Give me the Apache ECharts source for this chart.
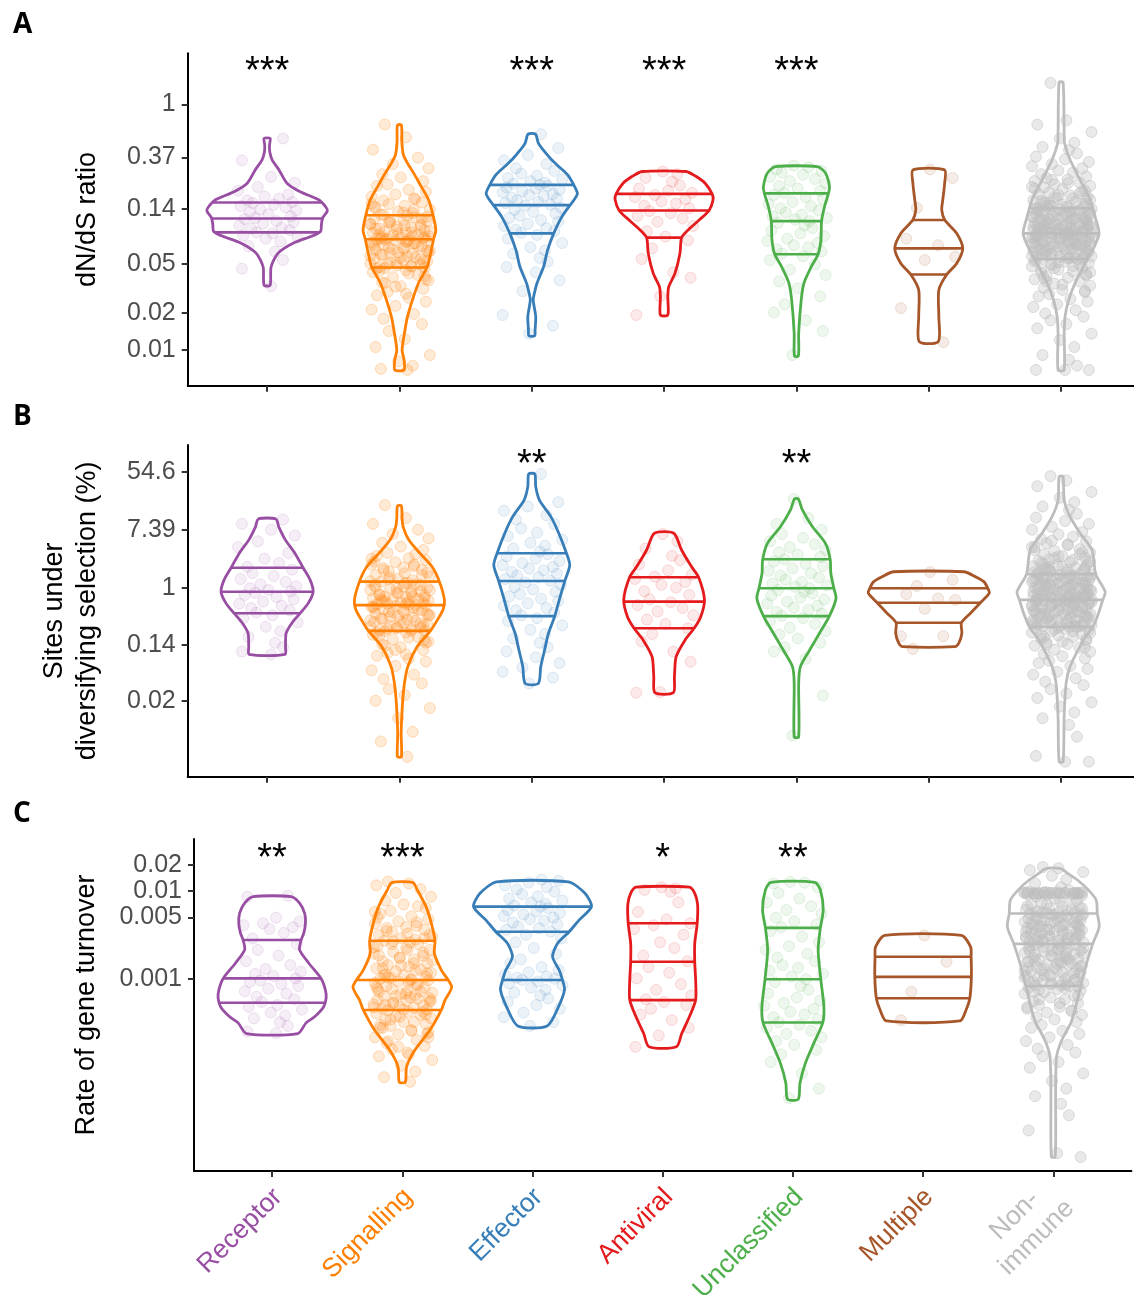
<!DOCTYPE html>
<html>
<head>
<meta charset="utf-8">
<title>Immune gene categories</title>
<script src="https://cdn.jsdelivr.net/npm/echarts@6/dist/echarts.min.js"></script>
<style>
  html, body { margin: 0; padding: 0; background: #fff; }
  #chart { width: 1134px; height: 1295px; }
</style>
</head>
<body>
<div id="chart"></div>
<script>
// 类别与配色
const categories = ['Receptor', 'Signalling', 'Effector', 'Antiviral', 'Unclassified', 'Multiple', 'Non-\nimmune'];
const catColors = ['#984ea3', '#ff7f00', '#377eb8', '#e41a1c', '#4daf4a', '#a65628', '#bdbdbd'];

// 刻度标签（原始数值，坐标轴按自然对数绘制）
const dndsTicks = [1, 0.37, 0.14, 0.05, 0.02, 0.01];
const sitesTicks = [54.6, 7.39, 1, 0.14, 0.02];
const turnoverTicks = [0.02, 0.01, 0.005, 0.001];

// 显著性星号
const dndsStars = ['***', '', '***', '***', '***', '', ''];
const sitesStars = ['', '', '**', '', '**', '', ''];
const turnoverStars = ['**', '***', '', '*', '**', '', ''];

// 抖动偏移表（类别单位）
const jitter = [0.12, -0.19, 0.03, 0.21, -0.07, -0.22, 0.16, -0.02, 0.09, -0.15, 0.19, -0.11, 0.05, -0.2, 0.14, -0.05, 0.22, -0.13, 0.01,
  0.18, -0.09, -0.17, 0.07, 0.2, -0.03, -0.21, 0.11, -0.12, 0.17, -0.08, 0.04, -0.18, 0.23, -0.01, 0.1, -0.14, 0.06];

// ---- A: ln(dN/dS) ----
const dndsPoints = [
  [-0.64,-1.05,-1.36,-1.47,-1.55,-1.62,-1.69,-1.73,-1.77,-1.8,-1.83,-1.85,-1.88,-1.91,-1.93,-1.97,-1.99,-2.02,-2.06,-2.1,-2.13,-2.15,-2.19,-2.21,-2.24,-2.27,-2.31,-2.33,-2.36,-2.4,-2.42,-2.46,-2.49,-2.52,-2.57,-2.66,-2.76,-2.92,-3.08,-3.41],
  [-0.38,-0.62,-0.85,-1.0,-1.12,-1.2,-1.31,-1.37,-1.44,-1.5,-1.53,-1.6,-1.64,-1.69,-1.73,-1.76,-1.8,-1.84,-1.87,-1.9,-1.94,-1.97,-2.01,-2.04,-2.07,
   -2.09,-2.12,-2.15,-2.17,-2.19,-2.22,-2.25,-2.26,-2.29,-2.31,-2.33,-2.36,-2.38,-2.4,-2.41,-2.44,-2.45,-2.47,-2.49,-2.5,-2.51,-2.52,-2.53,-2.54,-2.55,
   -2.56,-2.59,-2.6,-2.63,-2.66,-2.68,-2.7,-2.73,-2.75,-2.78,-2.8,-2.82,-2.85,-2.87,-2.89,-2.92,-2.94,-2.96,-2.98,-3.0,-3.02,-3.03,-3.05,-3.06,-3.07,
   -3.11,-3.15,-3.2,-3.24,-3.3,-3.34,-3.41,-3.46,-3.52,-3.58,-3.63,-3.7,-3.78,-3.85,-3.93,-4.02,-4.12,-4.25,-4.4,-4.55,-4.7,-4.82,-4.9,-4.96,-4.98,
   -1.78,-1.92,-2.03,-2.11,-2.18,-2.24,-2.3,-2.35,-2.4,-2.45,-2.49,-2.54,-2.58,-2.62,-2.67,-2.72,-2.77,-2.82,-2.88,-2.94,-3.0,-3.08,-3.17,-3.28,-3.42,
   -1.86,-1.98,-2.07,-2.14,-2.21,-2.27,-2.33,-2.38,-2.43,-2.47,-2.52,-2.57,-2.61,-2.65,-2.7,-2.74,-2.79,-2.84,-2.9,-2.97,-3.04,-3.12,-3.22,-3.35,-3.55],
  [-0.56,-0.82,-0.95,-1.05,-1.12,-1.2,-1.25,-1.3,-1.34,-1.38,-1.41,-1.44,-1.47,-1.49,-1.51,-1.53,-1.56,-1.58,-1.6,-1.63,-1.65,-1.68,-1.7,-1.72,-1.75,-1.77,-1.8,-1.83,-1.85,-1.88,
   -1.9,-1.94,-1.98,-2.02,-2.05,-2.09,-2.13,-2.17,-2.2,-2.24,-2.28,-2.32,-2.35,-2.38,-2.41,-2.45,-2.52,-2.6,-2.68,-2.74,-2.8,-2.88,-2.95,-3.05,-3.15,-3.3,-3.5,-3.95,-4.15,-4.3],
  [-1.26,-1.31,-1.38,-1.45,-1.52,-1.58,-1.62,-1.66,-1.7,-1.74,-1.78,-1.82,-1.86,-1.9,-1.95,-2.0,-2.04,-2.09,-2.14,-2.2,-2.28,-2.38,-2.48,-2.55,-2.7,-2.9,-3.15,-3.25,-3.6,-3.95],
  [-1.15,-1.18,-1.22,-1.25,-1.28,-1.32,-1.36,-1.4,-1.44,-1.48,-1.53,-1.58,-1.62,-1.66,-1.7,-1.74,-1.78,-1.83,-1.87,-1.91,-1.95,-1.99,-2.03,-2.07,-2.1,-2.13,-2.16,-2.19,
   -2.22,-2.27,-2.32,-2.37,-2.42,-2.47,-2.52,-2.56,-2.6,-2.64,-2.68,-2.72,-2.76,-2.8,-2.85,-2.92,-3.0,-3.1,-3.2,-3.32,-3.45,-3.6,-3.75,-3.9,-4.05,-4.25,-4.7],
  [-1.22,-1.38,-1.94,-2.52,-2.64,-2.86,-2.92,-3.82,-4.46],
  [0.4,-0.3,-0.38,-0.52,-0.64,-0.72,-0.8,-0.86,-0.92,-0.98,-1.03,-1.08,-1.12,-1.16,-1.2,-1.24,-1.28,-1.31,-1.35,-1.38,-1.41,-1.44,-1.47,-1.5,-1.53,-1.56,-1.59,-1.62,-1.65,-1.68,-1.71,-1.74,-1.77,-1.8,-1.82,-1.85,-1.87,-1.9,-1.92,-1.94,
   -1.96,-1.97,-1.99,-2.0,-2.02,-2.03,-2.05,-2.06,-2.08,-2.09,-2.11,-2.12,-2.14,-2.15,-2.17,-2.18,-2.2,-2.21,-2.23,-2.24,-2.25,-2.26,-2.28,-2.29,-2.3,-2.31,-2.32,-2.33,-2.34,-2.35,-2.36,-2.37,-2.38,-2.39,-2.4,-2.4,-2.41,-2.41,-2.42,-2.42,
   -2.43,-2.44,-2.45,-2.46,-2.47,-2.48,-2.49,-2.5,-2.51,-2.52,-2.53,-2.55,-2.56,-2.57,-2.58,-2.6,-2.61,-2.62,-2.63,-2.65,-2.66,-2.67,-2.69,-2.7,-2.71,-2.73,-2.74,-2.75,-2.77,-2.78,-2.8,-2.81,-2.83,-2.84,-2.85,-2.86,-2.87,-2.88,-2.89,-2.9,
   -2.92,-2.95,-2.98,-3.01,-3.04,-3.07,-3.1,-3.13,-3.16,-3.19,-3.22,-3.25,-3.28,-3.32,-3.36,-3.4,-3.44,-3.48,-3.52,-3.56,-3.6,-3.65,-3.7,-3.75,-3.8,-3.86,-3.92,-3.98,-4.05,-4.12,-4.2,-4.3,-4.42,-4.55,-4.7,-4.79,-4.9,-4.98,-4.98,-4.98,
   -1.42,-1.55,-1.63,-1.7,-1.76,-1.81,-1.86,-1.9,-1.93,-1.96,-1.99,-2.01,-2.04,-2.07,-2.1,-2.13,-2.16,-2.19,-2.22,-2.25,-2.27,-2.3,-2.33,-2.35,-2.38,-2.41,-2.44,-2.47,-2.5,-2.53,-2.56,-2.59,-2.62,-2.65,-2.68,-2.72,-2.76,-2.8,-2.85,-2.9,-2.96,-3.03,-3.1,-3.2,-3.32,
   -1.48,-1.58,-1.67,-1.74,-1.79,-1.84,-1.88,-1.92,-1.95,-1.98,-2.02,-2.05,-2.08,-2.11,-2.14,-2.17,-2.2,-2.23,-2.26,-2.29,-2.31,-2.34,-2.37,-2.39,-2.43,-2.46,-2.49,-2.52,-2.55,-2.58,-2.61,-2.64,-2.67,-2.7,-2.74,-2.78,-2.83,-2.88,-2.94,-3.0,-3.07,-3.15,-3.25,-3.38,-3.5,
   -1.85,-2.0,-2.15,-2.28,-2.4,-2.51,-2.63,-2.75,-2.87,-3.0]
];
// 小提琴轮廓 [ln值, 半宽(类别单位)]，自上而下
const dndsViolins = [
  [[-0.64,0.023],[-0.76,0.018],[-0.89,0.02],[-1.04,0.038],[-1.23,0.09],[-1.48,0.15],[-1.64,0.25],[-1.79,0.39],[-1.93,0.445],[-2.0,0.455],[-2.13,0.42],[-2.26,0.41],[-2.38,0.405],[-2.47,0.34],[-2.6,0.2],[-2.79,0.083],[-3.05,0.03],[-3.39,0.023]],
  [[-0.39,0.015],[-0.7,0.018],[-0.95,0.03],[-1.1,0.06],[-1.3,0.11],[-1.5,0.155],[-1.79,0.22],[-2.11,0.257],[-2.36,0.275],[-2.54,0.257],[-2.79,0.236],[-3.05,0.21],[-3.35,0.144],[-3.67,0.098],[-3.99,0.06],[-4.29,0.038],[-4.61,0.02],[-4.79,0.035],[-4.98,0.035]],
  [[-0.56,0.028],[-0.73,0.05],[-0.86,0.088],[-1.04,0.15],[-1.18,0.21],[-1.32,0.27],[-1.51,0.317],[-1.67,0.345],[-1.79,0.32],[-1.89,0.29],[-2.11,0.227],[-2.42,0.166],[-2.73,0.12],[-3.04,0.09],[-3.35,0.04],[-3.54,0.02],[-3.67,0.011],[-3.98,0.03],[-4.23,0.025],[-4.34,0.022]],
  [[-1.26,0.166],[-1.35,0.24],[-1.48,0.31],[-1.68,0.363],[-1.79,0.37],[-1.99,0.34],[-2.17,0.265],[-2.36,0.18],[-2.5,0.132],[-2.79,0.12],[-3.17,0.082],[-3.42,0.035],[-3.6,0.028],[-3.95,0.028]],
  [[-1.17,0.159],[-1.29,0.22],[-1.55,0.25],[-1.67,0.242],[-1.92,0.212],[-2.19,0.19],[-2.54,0.185],[-2.81,0.164],[-3.04,0.113],[-3.35,0.057],[-3.67,0.036],[-4.29,0.017],[-4.72,0.015]],
  [[-1.23,0.119],[-1.48,0.12],[-1.79,0.106],[-1.98,0.098],[-2.17,0.121],[-2.41,0.208],[-2.7,0.257],[-2.98,0.212],[-3.19,0.136],[-3.48,0.076],[-3.98,0.076],[-4.45,0.072]],
  [[0.41,0.015],[-0.54,0.023],[-0.73,0.026],[-1.04,0.068],[-1.42,0.144],[-1.79,0.22],[-2.11,0.257],[-2.42,0.287],[-2.67,0.25],[-3.04,0.17],[-3.35,0.106],[-3.67,0.057],[-3.98,0.03],[-4.29,0.023],[-4.98,0.023]]
];
const dndsQuartiles = [[-1.84,-2.14,-2.4],[-2.08,-2.53,-3.06],[-1.51,-1.89,-2.42],[-1.68,-1.99,-2.5],[-1.67,-2.19,-2.81],[-2.17,-2.7,-3.19],[-1.95,-2.42,-2.9]];

// ---- B: ln(% sites under diversifying selection) ----
const sitesPoints = [
  [2.35,2.2,2.0,1.8,1.6,1.4,1.2,1.0,0.85,0.72,0.62,0.5,0.4,0.3,0.2,0.12,0.05,-0.02,-0.08,-0.13,-0.18,-0.25,-0.32,-0.4,-0.48,-0.55,-0.62,-0.7,-0.78,-0.86,-0.95,-1.05,-1.2,-1.35,-1.5,-1.7,-1.9,-2.05,-2.2,-2.3],
  [2.85,2.4,2.2,2.0,1.85,1.7,1.55,1.42,1.3,1.2,1.1,1.02,0.95,0.88,0.8,0.74,0.68,0.62,0.56,0.5,0.44,0.38,0.32,0.26,0.21,
   0.17,0.12,0.08,0.04,0.0,-0.04,-0.08,-0.12,-0.16,-0.2,-0.24,-0.27,-0.3,-0.33,-0.36,-0.39,-0.42,-0.45,-0.48,-0.5,-0.53,-0.55,-0.57,-0.59,-0.6,
   -0.63,-0.67,-0.7,-0.74,-0.78,-0.82,-0.86,-0.9,-0.94,-0.98,-1.02,-1.06,-1.1,-1.14,-1.18,-1.22,-1.26,-1.3,-1.34,-1.37,-1.4,-1.43,-1.46,-1.48,-1.5,
   -1.55,-1.62,-1.7,-1.78,-1.86,-1.95,-2.05,-2.15,-2.25,-2.35,-2.45,-2.55,-2.7,-2.85,-3.0,-3.15,-3.3,-3.5,-3.7,-3.9,-4.15,-4.5,-4.97,-5.3,-5.83,
   1.15,0.9,0.7,0.52,0.36,0.22,0.09,-0.03,-0.14,-0.25,-0.35,-0.45,-0.55,-0.65,-0.75,-0.85,-0.96,-1.07,-1.18,-1.3,-1.42,-1.56,-1.72,-1.9,-2.15,
   1.0,0.8,0.61,0.44,0.29,0.15,0.03,-0.09,-0.2,-0.3,-0.4,-0.5,-0.6,-0.7,-0.8,-0.9,-1.01,-1.12,-1.24,-1.36,-1.49,-1.64,-1.81,-2.0,-2.3],
  [3.92,2.95,2.8,2.65,2.5,2.35,2.2,2.05,1.9,1.78,1.65,1.55,1.45,1.35,1.25,1.15,1.08,1.0,0.92,0.85,0.78,0.72,0.66,0.6,0.54,0.48,0.42,0.36,0.3,0.24,
   0.18,0.1,0.02,-0.06,-0.14,-0.22,-0.3,-0.38,-0.46,-0.54,-0.62,-0.7,-0.78,-0.86,-0.95,-1.05,-1.15,-1.3,-1.45,-1.6,-1.75,-1.9,-2.05,-2.2,-2.4,-2.6,-2.75,-2.9,-3.1,-3.3],
  [1.85,1.6,1.35,1.1,0.95,0.8,0.6,0.45,0.38,0.3,0.2,0.1,0.0,-0.12,-0.25,-0.4,-0.5,-0.6,-0.7,-0.82,-0.95,-1.1,-1.25,-1.4,-1.6,-1.85,-2.2,-2.55,-3.6,-3.62],
  [3.06,2.4,2.2,2.0,1.85,1.72,1.6,1.5,1.4,1.3,1.22,1.14,1.06,0.98,0.9,0.82,0.74,0.66,0.58,0.5,0.42,0.35,0.28,0.2,0.14,0.08,0.03,-0.02,
   -0.08,-0.14,-0.2,-0.27,-0.34,-0.41,-0.48,-0.55,-0.62,-0.69,-0.76,-0.83,-0.9,-0.97,-1.05,-1.15,-1.25,-1.38,-1.5,-1.62,-1.75,-1.9,-2.05,-2.2,-2.45,-3.72,-5.1],
  [0.54,0.27,0.06,-0.22,-0.37,-0.42,-0.73,-1.67,-1.67,-2.11],
  [3.85,3.7,3.5,3.3,3.1,2.95,2.8,2.68,2.55,2.42,2.3,2.2,2.1,2.0,1.92,1.84,1.76,1.68,1.6,1.53,1.46,1.4,1.33,1.27,1.21,1.15,1.09,1.03,0.98,0.93,0.88,0.83,0.78,0.74,0.7,0.66,0.62,0.57,0.52,0.48,
   0.45,0.43,0.4,0.38,0.35,0.33,0.3,0.28,0.25,0.23,0.2,0.18,0.15,0.13,0.1,0.08,0.05,0.03,0.0,-0.02,-0.05,-0.07,-0.1,-0.12,-0.15,-0.17,-0.2,-0.22,-0.24,-0.26,-0.28,-0.3,-0.32,-0.34,-0.36,-0.37,-0.38,-0.4,-0.41,-0.42,
   -0.44,-0.46,-0.49,-0.51,-0.54,-0.56,-0.59,-0.61,-0.64,-0.66,-0.69,-0.71,-0.74,-0.76,-0.79,-0.81,-0.84,-0.86,-0.89,-0.91,-0.94,-0.96,-0.99,-1.01,-1.04,-1.06,-1.09,-1.11,-1.14,-1.16,-1.19,-1.21,-1.24,-1.26,-1.28,-1.3,-1.32,-1.33,-1.34,-1.35,
   -1.38,-1.42,-1.46,-1.5,-1.55,-1.6,-1.65,-1.7,-1.76,-1.82,-1.88,-1.94,-2.0,-2.07,-2.14,-2.21,-2.28,-2.36,-2.44,-2.52,-2.6,-2.7,-2.8,-2.9,-3.0,-3.12,-3.24,-3.36,-3.5,-3.65,-3.8,-3.95,-4.1,-4.3,-4.5,-4.73,-5.14,-5.8,-6.0,-6.0,
   1.62,1.4,1.22,1.08,0.96,0.86,0.77,0.69,0.61,0.54,0.47,0.41,0.35,0.29,0.23,0.17,0.11,0.06,0.01,-0.04,-0.09,-0.14,-0.19,-0.24,-0.29,-0.34,-0.39,-0.44,-0.49,-0.55,-0.61,-0.67,-0.73,-0.8,-0.87,-0.94,-1.02,-1.1,-1.19,-1.28,-1.38,-1.5,-1.63,-1.78,-1.95,
   1.5,1.3,1.15,1.02,0.91,0.81,0.73,0.65,0.58,0.51,0.44,0.38,0.32,0.26,0.2,0.14,0.09,0.04,-0.01,-0.06,-0.11,-0.16,-0.21,-0.26,-0.31,-0.36,-0.41,-0.46,-0.52,-0.58,-0.64,-0.7,-0.77,-0.84,-0.91,-0.98,-1.06,-1.14,-1.23,-1.33,-1.44,-1.56,-1.7,-1.86,-2.05,
   0.7,0.4,0.1,-0.2,-0.5,-0.8,-1.1,0.25,-0.35,-0.65]
];
const sitesViolins = [
  [[2.37,0.066],[2.1,0.088],[1.65,0.138],[1.19,0.21],[0.69,0.272],[0.27,0.325],[-0.14,0.348],[-0.54,0.31],[-0.88,0.25],[-1.2,0.19],[-1.57,0.144],[-2.03,0.139],[-2.3,0.135]],
  [[2.82,0.015],[2.4,0.02],[2.1,0.028],[1.65,0.07],[1.19,0.154],[0.72,0.247],[0.21,0.302],[-0.42,0.34],[-0.75,0.33],[-1.11,0.287],[-1.49,0.234],[-2.03,0.134],[-2.72,0.063],[-3.29,0.038],[-3.87,0.025],[-5.01,0.013],[-5.83,0.015]],
  [[3.92,0.023],[3.48,0.03],[3.02,0.058],[2.45,0.144],[1.88,0.204],[1.19,0.262],[0.78,0.287],[0.23,0.25],[-0.42,0.208],[-0.98,0.174],[-1.57,0.126],[-2.15,0.097],[-2.72,0.068],[-3.3,0.05]],
  [[1.88,0.073],[1.3,0.132],[0.72,0.208],[0.36,0.261],[-0.42,0.305],[-1.0,0.277],[-1.4,0.227],[-1.8,0.159],[-2.38,0.091],[-3.07,0.078],[-3.62,0.07]],
  [[3.06,0.015],[2.68,0.045],[2.1,0.121],[1.53,0.219],[0.98,0.255],[0.5,0.26],[-0.02,0.283],[-0.37,0.299],[-0.98,0.249],[-1.57,0.174],[-2.15,0.1],[-2.72,0.03],[-3.29,0.017],[-5.14,0.017]],
  [[0.55,0.265],[0.38,0.353],[0.21,0.416],[-0.02,0.446],[-0.19,0.457],[-0.52,0.39],[-0.88,0.315],[-1.21,0.247],[-1.57,0.25],[-1.91,0.227],[-2.03,0.197]],
  [[3.83,0.015],[3.02,0.023],[2.45,0.068],[1.88,0.144],[1.3,0.234],[0.47,0.261],[-0.14,0.333],[-0.42,0.315],[-0.88,0.283],[-1.35,0.24],[-1.8,0.17],[-2.72,0.068],[-3.29,0.038],[-4.45,0.023],[-6.0,0.015]]
];
const sitesQuartiles = [[0.69,-0.14,-0.88],[0.21,-0.6,-1.49],[1.19,0.23,-0.98],[0.36,-0.48,-1.4],[0.98,-0.02,-0.98],[-0.02,-0.52,-1.21],[0.47,-0.42,-1.35]];

// ---- C: ln(rate of gene turnover) ----
const turnoverPoints = [
  [-4.72,-4.75,-5.3,-5.4,-5.45,-5.5,-5.55,-5.6,-5.7,-5.85,-6.0,-6.15,-6.3,-6.45,-6.55,-6.65,-6.72,-6.78,-6.84,-6.9,-6.95,-7.0,-7.05,-7.1,-7.17,-7.24,-7.3,-7.38,-7.45,-7.52,-7.6,-7.65,-7.72,-7.8,-7.88,-7.95,-8.05,-8.15,-8.3,-8.34],
  [-4.35,-4.4,-4.45,-4.55,-4.65,-4.75,-4.85,-4.95,-5.05,-5.12,-5.2,-5.27,-5.34,-5.4,-5.46,-5.52,-5.57,-5.62,-5.67,-5.72,-5.76,-5.8,-5.84,-5.88,-5.91,
   -5.95,-6.0,-6.05,-6.1,-6.15,-6.2,-6.25,-6.3,-6.35,-6.4,-6.45,-6.5,-6.55,-6.59,-6.63,-6.67,-6.71,-6.75,-6.79,-6.82,-6.85,-6.88,-6.91,-6.93,-6.95,
   -6.98,-7.02,-7.06,-7.1,-7.14,-7.18,-7.22,-7.25,-7.28,-7.31,-7.34,-7.37,-7.4,-7.43,-7.46,-7.49,-7.52,-7.55,-7.58,-7.61,-7.64,-7.67,-7.7,-7.72,-7.74,
   -7.78,-7.82,-7.86,-7.9,-7.95,-8.0,-8.05,-8.1,-8.15,-8.2,-8.26,-8.32,-8.38,-8.45,-8.52,-8.6,-8.68,-8.76,-8.85,-8.95,-9.05,-9.2,-9.35,-9.5,-9.62,
   -5.0,-5.3,-5.55,-5.75,-5.92,-6.08,-6.22,-6.36,-6.5,-6.63,-6.76,-6.88,-7.0,-7.12,-7.24,-7.36,-7.48,-7.6,-7.72,-7.85,-7.98,-8.12,-8.28,-8.45,-8.7,
   -5.15,-5.42,-5.65,-5.84,-6.0,-6.15,-6.29,-6.43,-6.56,-6.69,-6.82,-6.94,-7.06,-7.18,-7.3,-7.42,-7.54,-7.66,-7.78,-7.91,-8.05,-8.2,-8.36,-8.55,-8.9],
  [-4.3,-4.33,-4.38,-4.45,-4.5,-4.56,-4.62,-4.68,-4.74,-4.8,-4.85,-4.9,-4.94,-4.98,-5.01,-5.05,-5.1,-5.14,-5.18,-5.22,-5.26,-5.3,-5.34,-5.38,-5.43,-5.48,-5.53,-5.58,-5.62,-5.67,
   -5.75,-5.85,-5.95,-6.1,-6.25,-6.4,-6.5,-6.6,-6.68,-6.74,-6.8,-6.85,-6.88,-6.91,-6.94,-6.98,-7.03,-7.08,-7.14,-7.2,-7.27,-7.35,-7.43,-7.52,-7.6,-7.7,-7.8,-7.92,-8.05,-8.15],
  [-4.5,-4.53,-4.57,-4.62,-4.9,-5.15,-5.35,-5.45,-5.5,-5.6,-5.75,-5.95,-6.1,-6.3,-6.45,-6.6,-6.75,-6.9,-7.05,-7.2,-7.35,-7.45,-7.52,-7.6,-7.7,-7.85,-8.0,-8.2,-8.4,-8.7],
  [-4.36,-4.38,-4.4,-4.5,-4.65,-4.8,-4.9,-5.0,-5.1,-5.2,-5.3,-5.4,-5.48,-5.55,-5.65,-5.8,-5.95,-6.05,-6.15,-6.25,-6.35,-6.45,-6.55,-6.62,-6.7,-6.78,-6.85,-6.92,
   -7.0,-7.1,-7.2,-7.3,-7.4,-7.48,-7.55,-7.62,-7.7,-7.78,-7.85,-7.92,-7.98,-8.05,-8.12,-8.2,-8.28,-8.36,-8.45,-8.55,-8.65,-8.78,-8.9,-9.1,-9.4,-9.8,-10.05],
  [-5.77,-6.46,-7.25,-8.0],
  [-3.97,-4.0,-4.05,-4.1,-4.2,-4.3,-4.4,-4.5,-4.58,-4.62,-4.63,-4.64,-4.64,-4.65,-4.65,-4.65,-4.66,-4.66,-4.66,-4.67,-4.67,-4.68,-4.68,-4.7,-4.72,-4.75,-4.8,-4.85,-4.9,-4.95,-5.0,-5.03,-5.06,-5.09,-5.11,-5.13,-5.15,-5.17,-5.18,-5.19,
   -5.21,-5.23,-5.25,-5.27,-5.29,-5.31,-5.33,-5.35,-5.37,-5.39,-5.41,-5.43,-5.45,-5.47,-5.49,-5.51,-5.53,-5.55,-5.57,-5.59,-5.61,-5.63,-5.65,-5.67,-5.69,-5.71,-5.73,-5.75,-5.77,-5.79,-5.81,-5.83,-5.85,-5.87,-5.89,-5.91,-5.93,-5.95,-5.97,-5.99,
   -6.02,-6.05,-6.08,-6.11,-6.14,-6.17,-6.2,-6.23,-6.26,-6.29,-6.32,-6.35,-6.38,-6.41,-6.44,-6.47,-6.5,-6.53,-6.56,-6.59,-6.62,-6.65,-6.68,-6.71,-6.74,-6.77,-6.8,-6.83,-6.86,-6.89,-6.92,-6.95,-6.98,-7.0,-7.02,-7.04,-7.06,-7.08,-7.09,-7.1,
   -7.14,-7.18,-7.22,-7.26,-7.3,-7.35,-7.4,-7.45,-7.5,-7.55,-7.6,-7.65,-7.7,-7.75,-7.8,-7.86,-7.92,-7.98,-8.05,-8.12,-8.2,-8.28,-8.36,-8.45,-8.55,-8.65,-8.75,-8.85,-8.95,-9.1,-9.25,-9.4,-9.6,-9.8,-10.0,-10.2,-10.5,-10.9,-11.5,-11.6,
   -4.64,-4.65,-4.66,-4.65,-4.64,-4.66,-4.67,-4.65,-4.66,-4.64,
   -4.8,-4.95,-5.05,-5.15,-5.22,-5.3,-5.37,-5.44,-5.5,-5.56,-5.62,-5.68,-5.74,-5.8,-5.86,-5.92,-5.98,-6.04,-6.1,-6.16,-6.22,-6.28,-6.34,-6.4,-6.46,-6.52,-6.58,-6.64,-6.7,-6.77,-6.84,-6.92,-7.0,-7.1,-7.2,
   -4.88,-5.0,-5.1,-5.18,-5.26,-5.33,-5.4,-5.47,-5.53,-5.59,-5.65,-5.71,-5.77,-5.83,-5.89,-5.95,-6.01,-6.07,-6.13,-6.19,-6.25,-6.31,-6.37,-6.43,-6.49,-6.55,-6.61,-6.67,-6.74,-6.81,-6.88,-6.96,-7.05,-7.15,-7.25,
   -7.35,-7.45,-7.55,-7.65,-7.75,-4.63,-4.65,-4.67,-4.66,-4.64]
];
const turnoverViolins = [
  [[-4.75,0.146],[-4.92,0.211],[-5.19,0.25],[-5.45,0.256],[-5.71,0.243],[-5.89,0.223],[-6.15,0.211],[-6.5,0.282],[-6.9,0.376],[-7.2,0.409],[-7.42,0.415],[-7.65,0.395],[-7.91,0.326],[-8.07,0.261],[-8.35,0.197]],
  [[-4.38,0.081],[-4.57,0.115],[-5.01,0.182],[-5.45,0.223],[-5.91,0.251],[-6.24,0.246],[-6.68,0.3],[-7.12,0.379],[-7.47,0.328],[-7.73,0.3],[-8.26,0.213],[-8.78,0.098],[-9.22,0.033],[-9.63,0.023]],
  [[-4.36,0.276],[-4.66,0.403],[-5.01,0.453],[-5.36,0.359],[-5.67,0.282],[-5.98,0.192],[-6.33,0.154],[-6.68,0.205],[-6.94,0.23],[-7.2,0.246],[-7.64,0.2],[-8.15,0.113]],
  [[-4.5,0.205],[-4.66,0.246],[-4.95,0.268],[-5.45,0.265],[-5.98,0.246],[-6.46,0.246],[-6.94,0.253],[-7.47,0.253],[-7.91,0.205],[-8.35,0.146],[-8.7,0.105]],
  [[-4.37,0.169],[-4.57,0.211],[-5.1,0.233],[-5.57,0.211],[-6.15,0.194],[-6.92,0.214],[-7.64,0.238],[-8.06,0.23],[-8.61,0.16],[-9.13,0.096],[-9.66,0.054],[-10.08,0.041]],
  [[-5.77,0.294],[-6.07,0.365],[-6.33,0.369],[-6.86,0.371],[-7.42,0.359],[-7.73,0.33],[-8.02,0.282]],
  [[-4.01,0.058],[-4.13,0.108],[-4.31,0.186],[-4.57,0.269],[-4.84,0.33],[-5.19,0.338],[-5.54,0.353],[-5.99,0.303],[-6.5,0.256],[-7.1,0.211],[-7.64,0.173],[-8.08,0.134],[-8.35,0.09],[-8.61,0.054],[-8.96,0.025],[-9.84,0.018],[-11.59,0.015]]
];
const turnoverQuartiles = [[-5.89,-6.9,-7.54],[-5.91,-6.94,-7.73],[-5.01,-5.67,-6.94],[-5.45,-6.46,-7.47],[-5.57,-6.92,-8.06],[-6.33,-6.86,-7.42],[-5.19,-5.99,-7.1]];

// ---- 版式 ----
const FONT = 'Liberation Sans';
const panels = [
  { letter: 'A', letterY: 25, title: 'dN/dS ratio', titleX: 88,
    grid: { left: 187.7, top: 53.3, width: 952.8, height: 332.4 }, yMin: -5.275, yMax: 0.956, starLn: 0.594,
    ticks: dndsTicks, stars: dndsStars, points: dndsPoints, violins: dndsViolins, quart: dndsQuartiles },
  { letter: 'B', letterY: 417.5, title: 'Sites under\ndiversifying selection (%)', titleX: 71.5,
    grid: { left: 187.7, top: 445, width: 952.8, height: 331.7 }, yMin: -6.517, yMax: 4.921, starLn: 4.21,
    ticks: sitesTicks, stars: sitesStars, points: sitesPoints, violins: sitesViolins, quart: sitesQuartiles },
  { letter: 'C', letterY: 814, title: 'Rate of gene turnover', titleX: 87,
    grid: { left: 194, top: 839, width: 937.4, height: 332 }, yMin: -11.968, yMax: -3.231, starLn: -3.773,
    ticks: turnoverTicks, stars: turnoverStars, points: turnoverPoints, violins: turnoverViolins, quart: turnoverQuartiles }
];
const catIdx = categories.map((_, i) => i);
const pointAlpha = [0.12, 0.2, 0.12, 0.12, 0.12, 0.14, 0.42];

function rgba(hex, a) {
  const n = parseInt(hex.slice(1), 16);
  return `rgba(${(n >> 16) & 255},${(n >> 8) & 255},${n & 255},${a})`;
}

// 在轮廓上插值半宽（几何计算）
function widthAt(prof, q) {
  for (let j = 0; j < prof.length - 1; j++) {
    const a = prof[j], b = prof[j + 1];
    if (q <= a[0] && q >= b[0]) {
      const t = (a[0] - q) / (a[0] - b[0]);
      return a[1] + t * (b[1] - a[1]);
    }
  }
  return prof[0][1];
}

const grids = [], xAxes = [], yAxes = [], series = [], graphics = [];
const labelRich = {};
catColors.forEach((c, i) => {
  labelRich['c' + i] = { color: c, fontSize: 26.5, fontFamily: FONT };
});
labelRich.c6.width = 95;
labelRich.c6.align = 'center';
labelRich.c6.lineHeight = 31;

panels.forEach((p, k) => {
  // v6 会按外边界收缩网格，这里关闭以保持固定位置
  grids.push(Object.assign({ containLabel: false, outerBoundsMode: 'none' }, p.grid));
  const tickLn = p.ticks.map(v => Math.log(v));
  const lastPanel = k === panels.length - 1;
  const shift = 6 / (p.grid.width / 7.2);

  xAxes.push({
    gridIndex: k, type: 'value', min: -0.6, max: 6.6,
    axisLine: { show: true, onZero: false, lineStyle: { color: '#000', width: 2 } },
    axisTick: { show: true, length: 6, customValues: catIdx, lineStyle: { color: '#333', width: 2 } },
    axisLabel: {
      show: lastPanel, customValues: catIdx.map(v => v + shift), rotate: 45, margin: 22,
      formatter: v => `{c${Math.round(v)}|${categories[Math.round(v)]}}`, rich: labelRich
    },
    splitLine: { show: false }
  });

  yAxes.push({
    gridIndex: k, type: 'value', min: p.yMin, max: p.yMax,
    axisLine: { show: true, onZero: false, lineStyle: { color: '#000', width: 2 } },
    axisTick: { show: true, length: 6, customValues: tickLn, lineStyle: { color: '#333', width: 2 } },
    axisLabel: {
      show: true, customValues: tickLn, margin: 12, fontSize: 25, color: '#4d4d4d', fontFamily: FONT,
      formatter: v => {
        let best = 0;
        tickLn.forEach((t, i) => { if (Math.abs(t - v) < Math.abs(tickLn[best] - v)) best = i; });
        return String(p.ticks[best]);
      }
    },
    splitLine: { show: false }
  });

  // 抖动散点
  p.points.forEach((pts, g) => {
    series.push({
      type: 'scatter', xAxisIndex: k, yAxisIndex: k, symbolSize: 11, silent: true, z: 2,
      data: pts.map((y, j) => [g + jitter[(j + 11 * g) % jitter.length], y]),
      itemStyle: { color: rgba(catColors[g], pointAlpha[g]), borderColor: rgba(catColors[g], Math.min(1, pointAlpha[g] * 1.5)), borderWidth: 1 }
    });
  });

  // 小提琴 + 四分位线 + 星号
  series.push({
    type: 'custom', xAxisIndex: k, yAxisIndex: k, z: 3, silent: true,
    data: catIdx.map(i => [i, p.starLn]),
    renderItem: (params, api) => {
      const i = params.dataIndex;
      const prof = p.violins[i];
      const col = catColors[i];
      const right = prof.map(d => api.coord([i + d[1], d[0]]));
      const left = prof.slice().reverse().map(d => api.coord([i - d[1], d[0]]));
      const children = [{
        type: 'polygon',
        shape: { points: right.concat(left), smooth: 0.25 },
        style: { fill: 'none', stroke: col, lineWidth: 2.8 }
      }];
      p.quart[i].forEach(q => {
        const hw = widthAt(prof, q);
        const a = api.coord([i - hw, q]), b = api.coord([i + hw, q]);
        children.push({
          type: 'line', shape: { x1: a[0], y1: a[1], x2: b[0], y2: b[1] },
          style: { stroke: col, lineWidth: 2.6 }
        });
      });
      if (p.stars[i]) {
        const s = api.coord([i, p.starLn]);
        children.push({
          type: 'text', x: s[0], y: s[1],
          style: { text: p.stars[i], fill: '#000', fontSize: 38, fontFamily: FONT, align: 'center', verticalAlign: 'middle' }
        });
      }
      return { type: 'group', children };
    }
  });

  graphics.push({
    type: 'text', x: 13, y: p.letterY,
    style: { text: p.letter, fill: '#000', fontSize: 28, fontWeight: 'bold', fontFamily: 'Open Sans', align: 'left', verticalAlign: 'middle' }
  });
  graphics.push({
    type: 'text', x: p.titleX, y: p.grid.top + p.grid.height / 2, rotation: Math.PI / 2,
    style: { text: p.title, fill: '#000', fontSize: 27, fontFamily: FONT, lineHeight: 33, align: 'center', verticalAlign: 'middle' }
  });
});

const chart = echarts.init(document.getElementById('chart'), null, { renderer: 'canvas' });
chart.setOption({
  animation: false,
  backgroundColor: '#fff',
  textStyle: { fontFamily: FONT },
  grid: grids,
  xAxis: xAxes,
  yAxis: yAxes,
  series: series,
  graphic: graphics
});

window.addEventListener('resize', () => chart.resize());
</script>
</body>
</html>
